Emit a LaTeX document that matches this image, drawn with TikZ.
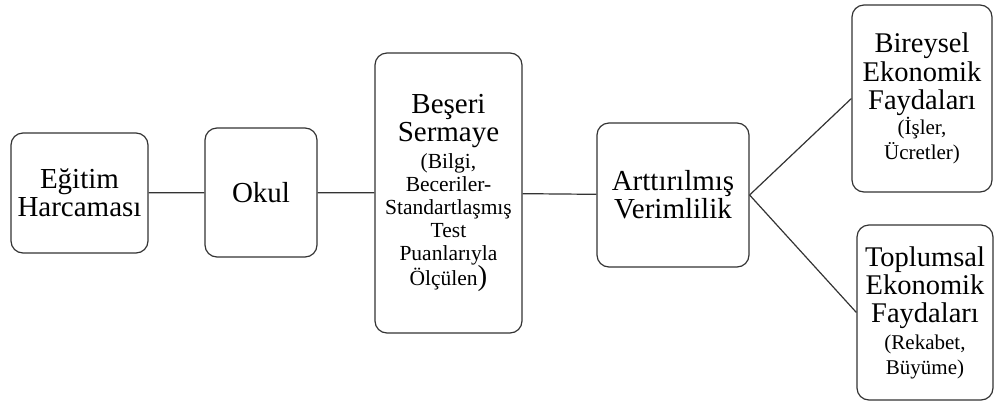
\documentclass[tikz,border=0pt]{standalone}
\usepackage{fontspec}
\setmainfont{Liberation Serif}
\usepackage{tikz}
\usetikzlibrary{shapes,arrows,positioning}
\newcommand{\bigtxt}{\fontsize{29}{28}\selectfont}
\newcommand{\smalltxt}{\fontsize{21.5}{23}\selectfont}
\tikzstyle{line} = [draw, black!80, line width = 1.2pt]
\tikzstyle{block} = [rectangle, draw, black!80, line width = 1.2pt, text = black, rounded corners = 12pt, inner sep = 0pt, align = center, font = \bigtxt]

\begin{document}
\begin{tikzpicture}[x = 1pt, y = -1pt]
			\useasboundingbox (0, 0) rectangle (994, 405);
			% Place nodes
			\node [block, minimum width = 137pt, minimum height = 120pt, text width = 135pt] (egitim) at (79.5, 193) {Eğitim\\Harcaması};
			\node [block, minimum width = 112pt, minimum height = 129pt, text width = 110pt] (okul) at (261, 192.5) {Okul};
			\node [block, minimum width = 147pt, minimum height = 280pt, text width = 145pt] (beseri) at (448.5, 193) {{\bigtxt Beşeri\\Sermaye\par}\vspace{4pt}{\smalltxt (Bilgi,\\Beceriler-\\Standartlaşmış\\Test\\Puanlarıyla\\Ölçülen{\bigtxt)}\par}};
			\node [block, minimum width = 152pt, minimum height = 144pt, text width = 150pt] (verim) at (673, 195) {Arttırılmış\\Verimlilik};
			\node [block, minimum width = 140pt, minimum height = 187pt, text width = 138pt] (bireysel) at (922, 98.5) {{\fontsize{28.5}{28.5}\selectfont Bireysel\\Ekonomik\\Faydaları\par}{\fontsize{21}{25}\selectfont (İşler,\\Ücretler)\par}};
			\node [block, minimum width = 136pt, minimum height = 175pt, text width = 134pt] (toplumsal) at (925, 312.5) {{\fontsize{28.5}{28}\selectfont Toplumsal\\Ekonomik\\Faydaları\par}\vspace{2pt}{\fontsize{21}{25}\selectfont (Rekabet,\\Büyüme)\par}};
			% Draw edges
			\path [line] (egitim) -- (okul);
			\path [line] (okul) -- (beseri);
			\path [line] (beseri) -- (verim);
			\path [line] (verim.east) -- (bireysel.west);
			\path [line] (verim.east) -- (toplumsal.west);
		\end{tikzpicture}
\end{document}
